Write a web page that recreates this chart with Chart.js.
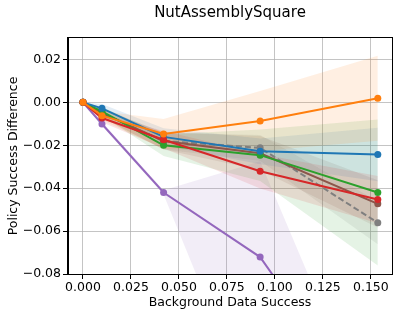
<!DOCTYPE html>
<html>
<head>
<meta charset="utf-8">
<script src="https://cdn.jsdelivr.net/npm/chart.js@4/dist/chart.umd.min.js"></script>
<style>
  html, body { margin: 0; padding: 0; background: #fff; }
  #wrap { width: 399px; height: 316px; }
</style>
</head>
<body>
<div id="wrap"><canvas id="chart" width="399" height="316"></canvas></div>
<script>
  // background data success levels (shared by all runs)
  const xValues = [0, 0.0099, 0.042, 0.0923, 0.1536];
  const xTicks = [0, 0.025, 0.05, 0.075, 0.1, 0.125, 0.15];
  const yTicks = [-0.08, -0.06, -0.04, -0.02, 0, 0.02];

  // mean policy success difference per run, with band half widths
  const blueY = [0, -0.0028, -0.0161, -0.0228, -0.0243];
  const blueHw = [0, 0.002, 0.004, 0.006, 0.0125];
  const orangeY = [0, -0.0062, -0.0147, -0.0087, 0.0019];
  const orangeHw = [0, 0.002, 0.007, 0.014, 0.0198];
  const greenY = [0, -0.0042, -0.020, -0.0246, -0.042];
  const greenHw = [0, 0.002, 0.005, 0.012, 0.034];
  const redY = [0, -0.0073, -0.0174, -0.0321, -0.0453];
  const redHw = [0, 0.002, 0.004, 0.008, 0.011];
  const brownY = [0, -0.005, -0.018, -0.0237, -0.0473];
  const brownHw = [0, 0.002, 0.004, 0.008, 0.011];
  const grayY = [0, -0.005, -0.018, -0.0212, -0.0561];
  const grayHw = [0, 0.002, 0.004, 0.006, 0.01];
  const purpleY = [0, -0.0101, -0.042, -0.0721, -0.150];
  const purpleLo = [0, -0.011, -0.043, -0.153, -0.30];
  const purpleHi = [0, -0.009, -0.041, -0.0274, -0.157];

  const FONT = 'DejaVu Sans, sans-serif';

  function pts(ys) {
    return xValues.map((x, i) => ({ x: x, y: ys[i] }));
  }

  function rgba(hex, a) {
    const n = parseInt(hex.slice(1), 16);
    return `rgba(${(n >> 16) & 255}, ${(n >> 8) & 255}, ${n & 255}, ${a})`;
  }

  const lineSets = [];
  const bandSets = [];

  function addSeries(color, ys, lo, hi, order, dashed) {
    bandSets.push({
      data: pts(lo), borderWidth: 0, borderColor: 'transparent',
      pointRadius: 0, fill: false, order: 20 + order,
    });
    bandSets.push({
      data: pts(hi), borderWidth: 0, borderColor: 'transparent',
      backgroundColor: rgba(color, 0.12), pointRadius: 0,
      fill: '-1', order: 20 + order,
    });
    lineSets.push({
      data: pts(ys), borderColor: color, backgroundColor: color,
      borderWidth: 2, borderDash: dashed ? [6, 3] : [],
      pointRadius: 3.5, pointHoverRadius: 3.5, pointBorderWidth: 0,
      pointBackgroundColor: color, fill: false, tension: 0, order: order,
    });
  }

  function plusMinus(ys, hw, sign) {
    return ys.map((v, i) => v + sign * hw[i]);
  }

  addSeries('#ff7f0e', orangeY, plusMinus(orangeY, orangeHw, -1), plusMinus(orangeY, orangeHw, 1), 0);
  addSeries('#d62728', redY, plusMinus(redY, redHw, -1), plusMinus(redY, redHw, 1), 1);
  addSeries('#1f77b4', blueY, plusMinus(blueY, blueHw, -1), plusMinus(blueY, blueHw, 1), 2);
  addSeries('#2ca02c', greenY, plusMinus(greenY, greenHw, -1), plusMinus(greenY, greenHw, 1), 3);
  addSeries('#8c564b', brownY, plusMinus(brownY, brownHw, -1), plusMinus(brownY, brownHw, 1), 4);
  addSeries('#7f7f7f', grayY, plusMinus(grayY, grayHw, -1), plusMinus(grayY, grayHw, 1), 5, true);
  addSeries('#9467bd', purpleY, purpleLo, purpleHi, 6);

  const frame = {
    id: 'frame',
    afterDatasetsDraw(chart) {
      const { ctx, chartArea: a } = chart;
      ctx.save();
      ctx.strokeStyle = '#000';
      ctx.lineWidth = 1;
      ctx.strokeRect(a.left - 0.5, a.top - 0.5, a.right - a.left + 1, a.bottom - a.top + 1);
      ctx.restore();
    },
  };

  const tickFont = { family: FONT, size: 12.5 };
  const gridStyle = {
    color: 'rgba(176, 176, 176, 0.75)', lineWidth: 1,
    tickColor: '#000', tickLength: 5, tickWidth: 1,
  };

  new Chart(document.getElementById('chart'), {
    type: 'line',
    data: { datasets: bandSets.concat(lineSets) },
    options: {
      responsive: false,
      animation: false,
      devicePixelRatio: 1,
      layout: { padding: { left: 0, right: 7, top: 0, bottom: 0 } },
      plugins: {
        legend: { display: false },
        tooltip: { enabled: false },
        title: {
          display: true, text: 'NutAssemblySquare', fullSize: false,
          color: '#000', font: { family: FONT, size: 15, weight: 'normal' },
          padding: { top: 4, bottom: 16 },
        },
      },
      scales: {
        x: {
          type: 'linear', min: -0.0078, max: 0.161,
          afterBuildTicks(scale) { scale.ticks = xTicks.map((v) => ({ value: v })); },
          afterFit(scale) { scale.height = 42; },
          ticks: {
            callback: (v) => Number(v).toFixed(3), color: '#000', font: tickFont,
            padding: 1, maxRotation: 0, autoSkip: false,
          },
          grid: gridStyle,
          border: { color: '#000', width: 1 },
          title: {
            display: true, text: 'Background Data Success', color: '#000',
            font: tickFont, padding: { top: 0, bottom: 6 },
          },
        },
        y: {
          type: 'linear', min: -0.08, max: 0.03,
          afterBuildTicks(scale) { scale.ticks = yTicks.map((v) => ({ value: v })); },
          afterFit(scale) { scale.width = 68; },
          ticks: {
            callback: (v) => (v < 0 ? '\u2212' : '') + Math.abs(v).toFixed(2),
            color: '#000', font: tickFont, padding: 2, autoSkip: false,
          },
          grid: gridStyle,
          border: { color: '#000', width: 1 },
          title: {
            display: true, text: 'Policy Success Difference', color: '#000',
            font: tickFont, padding: { top: 6, bottom: 0 },
          },
        },
      },
    },
    plugins: [frame],
  });
</script>
</body>
</html>
